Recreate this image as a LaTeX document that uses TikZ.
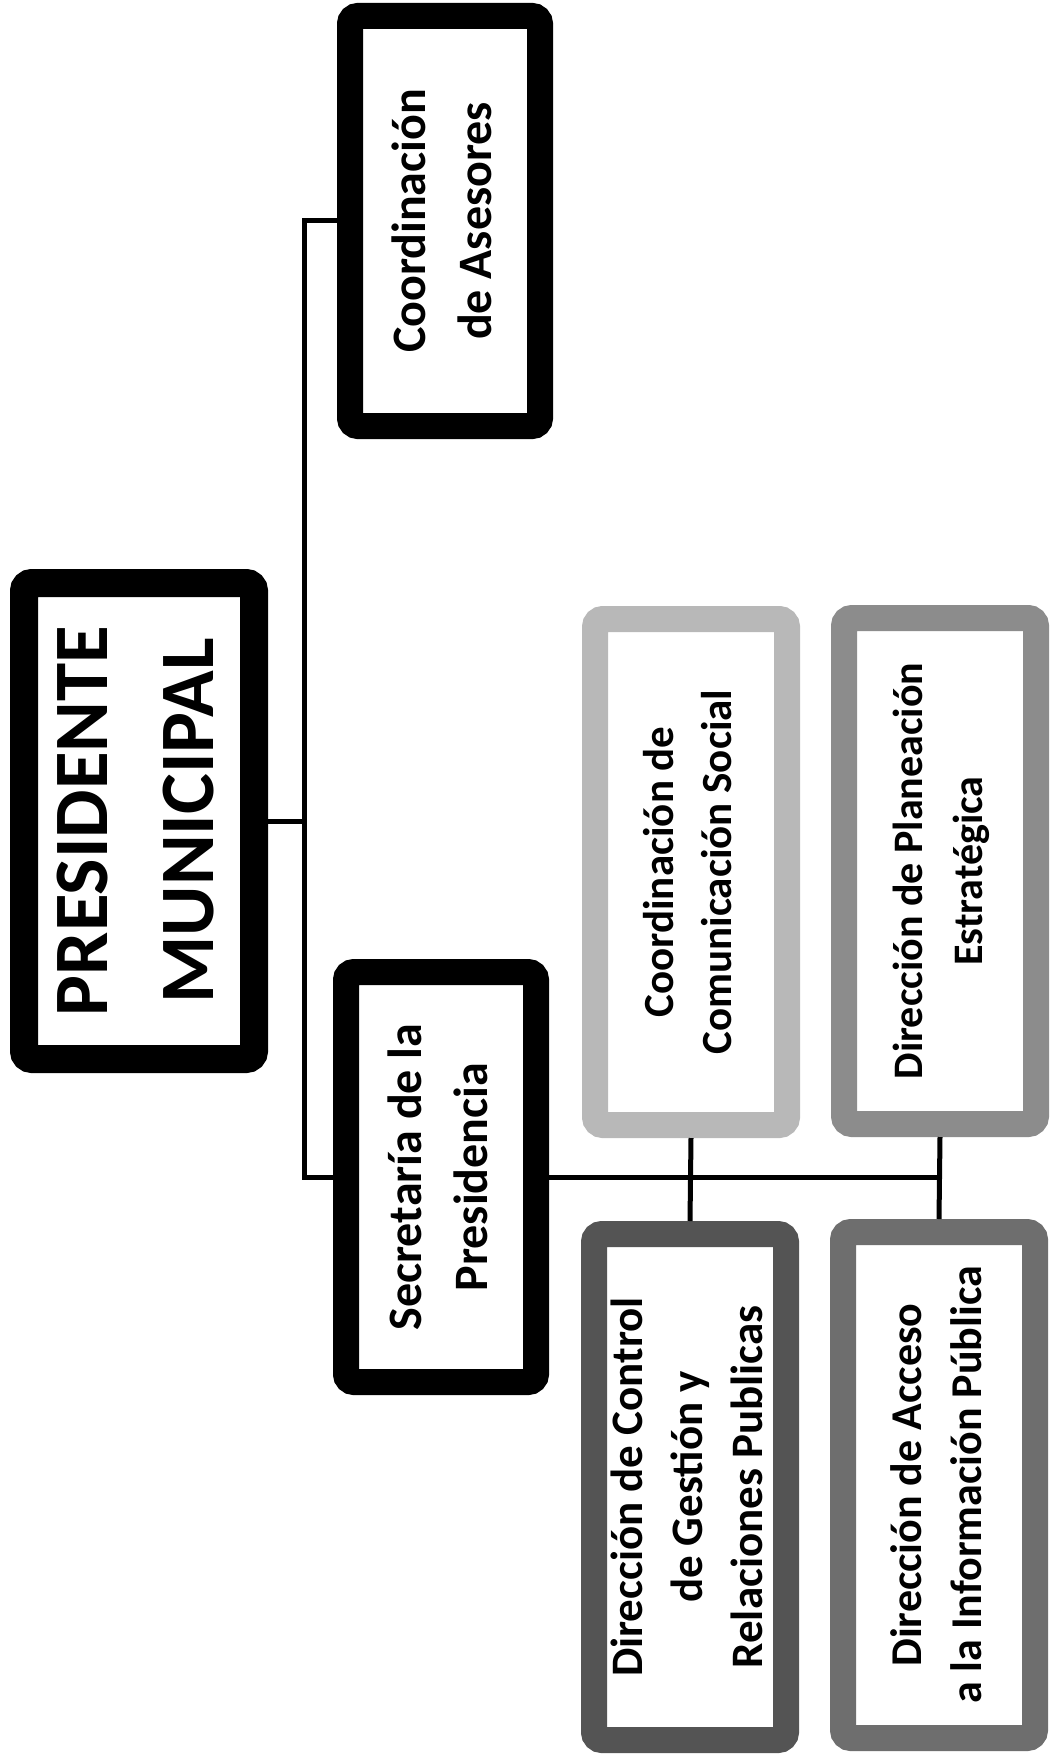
\documentclass[tikz,border=0pt]{standalone}
\usepackage{fontspec}
\setmainfont{Carlito}
\usepackage{graphicx}
\usetikzlibrary{positioning}

\definecolor{lightgr}{gray}{0.72}
\definecolor{midgr}{gray}{0.55}
\definecolor{darkgr}{gray}{0.33}

\newcommand{\vtext}[1]{\rotatebox{90}{\begin{tabular}{@{}c@{}}#1\end{tabular}}}

\begin{document}
\begin{tikzpicture}
  [x=0.5pt, y=-0.5pt, line width=2.5pt]
  \tikzset{box/.style={draw, rounded corners=4pt, inner sep=0pt, text=black, fill=white}}
  \tikzset{head/.style={box, line width=14pt, minimum width=115pt, minimum height=238pt, font=\bfseries\fontsize{38.5}{53}\selectfont}}
  \tikzset{chief/.style={box, line width=13pt, minimum width=95pt, minimum height=205pt, font=\bfseries\fontsize{24}{33}\selectfont}}
  \tikzset{unit/.style={box, line width=13pt, minimum width=96pt, minimum height=253pt, font=\bfseries\fontsize{21}{30}\selectfont}}

  \fill[white] (0,0) rectangle (1050,1760);
  \useasboundingbox (0,0) rectangle (1050,1760);

  \node [head] (PM) at (139,821) {\vtext{PRESIDENTE\\MUNICIPAL}};
  \node [chief] (CA) at (445,221) {\vtext{Coordinación\\de Asesores}};
  \node [chief] (SP) at (441,1177) {\vtext{Secretaría de la\\Presidencia}};

  \node [unit, draw=lightgr, font=\bfseries\fontsize{21.5}{29}\selectfont] (CS) at (691,872) {\vtext{Coordinación de\\Comunicación Social}};
  \node [unit, draw=darkgr, font=\bfseries\fontsize{22.5}{30}\selectfont] (DC) at (690,1487) {\vtext{Dirección de Control\\de Gestión y\\Relaciones Publicas}};
  \node [unit, draw=midgr, font=\bfseries\fontsize{21}{30}\selectfont] (DP) at (940,871) {\vtext{Dirección de Planeación\\Estratégica}};
  \node [unit, draw=darkgr!85!white, font=\bfseries\fontsize{22}{30}\selectfont] (DA) at (939,1485) {\vtext{Dirección de Acceso\\a la Información Pública}};

  % Presidente
  \coordinate (TR) at (304,821);
  \draw (PM.east) -- (TR);
  \draw (CA.west) -| (TR) |- (SP.west);

  % Secretaria
  \draw (SP.east) -- (SP.east -| DP.south);
    \draw (CS.south) -- (DC.north);
    \draw (DP.south) -- (DA.north);
\end{tikzpicture}
\end{document}
